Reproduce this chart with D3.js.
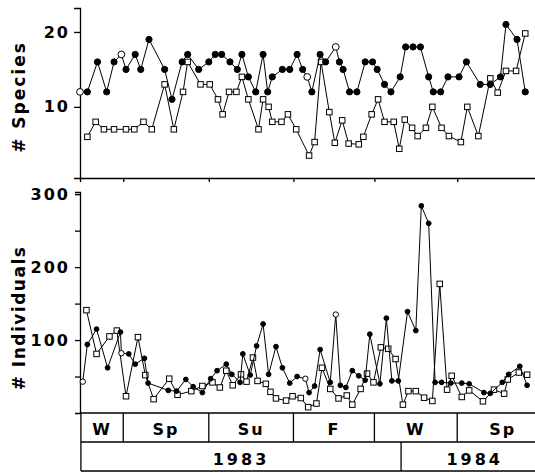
<!DOCTYPE html>
<html>
<head>
<meta charset="utf-8">
<script src="https://cdn.jsdelivr.net/npm/d3@7"></script>
<style>
  body { margin: 0; background: #fff; }
  svg { display: block; }
  text { font-family: "DejaVu Sans", sans-serif; font-weight: bold; fill: #000; }
</style>
</head>
<body>
<div id="chart"></div>
<script>
// frame
const WIDTH = 535;
const HEIGHT = 473;

// sampling day (days since start of study) for each series
const topCircleDays = [0, 8, 19, 29, 37, 45, 50, 60, 66, 75, 92, 100, 111, 117, 129, 140, 147, 154, 163, 171,
  176, 183, 191, 199, 204, 209, 220, 228, 236, 242, 247, 252, 261, 267, 278, 282, 286, 293, 301, 310,
  318, 323, 331, 338, 348, 354, 362, 370, 379, 384, 392, 400, 412, 420, 435, 446, 457, 463, 475, 484];
const topCircleVals = [12, 12, 16, 12, 16, 17, 15, 17, 15, 19, 15, 11, 16, 17, 15, 16, 17, 17, 16, 15,
  17, 14, 12, 17, 12, 14, 15, 15, 17, 15, 14, 12, 17, 16, 18, 16, 15, 12, 12, 16,
  16, 15, 13, 12, 14, 18, 18, 18, 14, 12, 12, 14, 14, 16, 13, 13, 14, 21, 19, 12];
const topOpenDays = [0, 45, 247, 278];

const topSquareDays = [8, 17, 26, 37, 50, 59, 69, 78, 92, 102, 112, 117, 131, 141, 150, 155, 162, 170, 176, 183,
  194, 199, 205, 209, 219, 226, 235, 249, 255, 262, 271, 277, 285, 292, 303, 308, 317, 324, 331, 341,
  347, 353, 361, 367, 376, 383, 393, 401, 414, 421, 433, 446, 454, 463, 474, 484];
const topSquareVals = [6, 8, 7, 7, 7, 7, 8, 7, 13, 7, 12, 16, 13, 13, 11, 9, 12, 12, 14, 11,
  7, 11, 10, 8, 8, 9, 7, 3.5, 5.3, 16, 9.3, 5.2, 8.2, 5.1, 5, 6, 9, 11, 8, 8,
  4.4, 8.3, 7.2, 6.1, 7.2, 10, 7.2, 6.1, 5.3, 10, 6.1, 13.8, 11.9, 14.8, 14.8, 19.8];

const botCircleDays = [3, 8, 18, 30, 44, 45, 53, 60, 70, 74, 96, 105, 115, 123, 133, 142, 149, 159, 165, 174,
  177, 185, 192, 199, 205, 213, 220, 228, 236, 245, 249, 255, 261, 272, 278, 283, 289, 296, 303, 310,
  315, 326, 333, 339, 346, 356, 365, 371, 379, 386, 393, 403, 415, 423, 439, 446, 459, 466, 478, 486];
const botCircleVals = [43, 94, 115, 62, 111, 82, 81, 67, 75, 41, 31, 30, 46, 36, 28, 47, 58, 67, 53, 42,
  81, 52, 92, 122, 53, 91, 62, 41, 50, 47, 28, 37, 87, 42, 135, 38, 35, 58, 51, 45,
  108, 40, 130, 44, 44, 139, 113, 284, 260, 42, 42, 41, 41, 40, 28, 27, 42, 53, 64, 38];
const botOpenDays = [3, 45, 245, 278];

const botSquareDays = [7, 18, 32, 40, 50, 63, 71, 80, 97, 106, 121, 133, 144, 152, 159, 166, 175, 181, 188, 193,
  202, 207, 213, 224, 231, 240, 248, 257, 263, 272, 281, 290, 296, 305, 312, 319, 327, 335, 343, 351,
  357, 365, 374, 383, 391, 399, 404, 415, 423, 438, 450, 461, 465, 477, 486];
const botSquareVals = [141, 81, 105, 113, 23, 104, 52, 19, 47, 25, 30, 37, 42, 35, 58, 38, 53, 43, 76, 44,
  40, 29, 20, 17, 23, 20.5, 8, 13, 62, 33, 20, 24, 11.5, 33, 54, 42, 90, 88, 74, 11.5,
  30, 30, 21, 16.5, 177, 32, 51, 22, 31, 16, 32, 26.5, 46, 55.5, 52.5];

// season / year bands (day boundaries)
const seasonNames = ["W", "Sp", "Su", "F", "W", "Sp"];
const seasonBreaks = [1, 47, 140, 232, 320, 410, 509];
const yearNames = ["1983", "1984"];
const yearBreaks = [1, 349, 509];

const speciesTicks = [10, 20];
const indivTicks = [50, 100, 150, 200, 250, 300];
const indivLabels = [100, 200, 300];

const svg = d3.select("#chart").append("svg")
  .attr("width", WIDTH)
  .attr("height", HEIGHT);

const X = d3.scaleLinear().domain([0, 495]).range([80, 535.4]);
const Y1 = d3.scaleLinear().domain([0.5, 23.2]).range([178, 8]);
const Y2 = d3.scaleLinear().domain([0, 303]).range([413, 192]);

function styleAxis(g) {
  g.selectAll("path, line").attr("stroke", "#000").attr("stroke-width", 1.3);
  g.selectAll("text")
    .attr("font-size", "16px")
    .attr("font-family", "DejaVu Sans, sans-serif")
    .attr("font-weight", "bold")
    .attr("letter-spacing", "2px")
    .attr("fill", "#000");
}

// y axes
svg.append("g")
  .attr("transform", "translate(80,0)")
  .call(d3.axisLeft(Y1).tickValues(speciesTicks).tickSizeOuter(0).tickSize(6).tickPadding(4))
  .call(styleAxis);

svg.append("g")
  .attr("transform", "translate(80,0)")
  .call(d3.axisLeft(Y2).tickValues(indivTicks).tickSizeOuter(0).tickSize(5).tickPadding(5)
    .tickFormat(d => indivLabels.includes(d) ? d : ""))
  .call(styleAxis);

// top panel x axis with season ticks
svg.append("g")
  .attr("transform", "translate(0,178)")
  .call(d3.axisBottom(X).tickValues(seasonBreaks.slice(1, 6)).tickSizeOuter(0).tickSize(4).tickFormat(""))
  .call(styleAxis);

// axis titles
svg.append("text")
  .attr("transform", "translate(25,97) rotate(-90)")
  .attr("text-anchor", "middle")
  .attr("font-size", "17px")
  .attr("letter-spacing", "2px")
  .text("# Species");

svg.append("text")
  .attr("transform", "translate(25,318) rotate(-90)")
  .attr("text-anchor", "middle")
  .attr("font-size", "17px")
  .attr("letter-spacing", "1.5px")
  .text("# Individuals");

// season / year boxes
const band = svg.append("g").attr("stroke", "#000").attr("stroke-width", 1.3).attr("fill", "none");
band.append("line").attr("x1", X(seasonBreaks[0])).attr("x2", 540).attr("y1", 413).attr("y2", 413);
band.append("line").attr("x1", X(seasonBreaks[0])).attr("x2", 540).attr("y1", 442).attr("y2", 442);
band.append("line").attr("x1", X(seasonBreaks[0])).attr("x2", 540).attr("y1", 471).attr("y2", 471);
band.selectAll(".sdiv").data(seasonBreaks.slice(0, 6)).join("line")
  .attr("x1", d => X(d)).attr("x2", d => X(d)).attr("y1", 413).attr("y2", 442);
band.selectAll(".ydiv").data(yearBreaks.slice(0, 2)).join("line")
  .attr("class", "ydiv")
  .attr("x1", d => X(d)).attr("x2", d => X(d)).attr("y1", 442).attr("y2", 471);

svg.selectAll(".season").data(seasonNames).join("text")
  .attr("class", "season")
  .attr("x", (d, i) => (X(seasonBreaks[i]) + X(seasonBreaks[i + 1])) / 2)
  .attr("y", 435)
  .attr("text-anchor", "middle")
  .attr("font-size", "16px")
  .attr("letter-spacing", "2px")
  .text(d => d);

svg.selectAll(".year").data(yearNames).join("text")
  .attr("class", "year")
  .attr("x", (d, i) => (X(yearBreaks[i]) + X(yearBreaks[i + 1])) / 2)
  .attr("y", 465)
  .attr("text-anchor", "middle")
  .attr("font-size", "16px")
  .attr("letter-spacing", "3px")
  .text(d => d);

// series drawing
function drawSeries(days, vals, yScale, kind, size, openDays) {
  const pts = days.map((d, i) => ({ d: d, v: vals[i] }));
  svg.append("path")
    .datum(pts)
    .attr("fill", "none")
    .attr("stroke", "#000")
    .attr("stroke-width", 1)
    .attr("d", d3.line().x(p => X(p.d)).y(p => yScale(p.v)));
  if (kind === "circle") {
    svg.append("g").selectAll("circle").data(pts).join("circle")
      .attr("cx", p => X(p.d))
      .attr("cy", p => yScale(p.v))
      .attr("r", p => openDays.includes(p.d) ? size + 0.3 : size)
      .attr("fill", p => openDays.includes(p.d) ? "#fff" : "#000")
      .attr("stroke", "#000")
      .attr("stroke-width", 1);
  } else {
    svg.append("g").selectAll("rect").data(pts).join("rect")
      .attr("x", p => X(p.d) - size / 2)
      .attr("y", p => yScale(p.v) - size / 2)
      .attr("width", size)
      .attr("height", size)
      .attr("fill", "#fff")
      .attr("stroke", "#000")
      .attr("stroke-width", 1);
  }
}

drawSeries(topSquareDays, topSquareVals, Y1, "square", 5.5);
drawSeries(topCircleDays, topCircleVals, Y1, "circle", 3.1, topOpenDays);
drawSeries(botSquareDays, botSquareVals, Y2, "square", 5.5);
drawSeries(botCircleDays, botCircleVals, Y2, "circle", 2.4, botOpenDays);
</script>
</body>
</html>
